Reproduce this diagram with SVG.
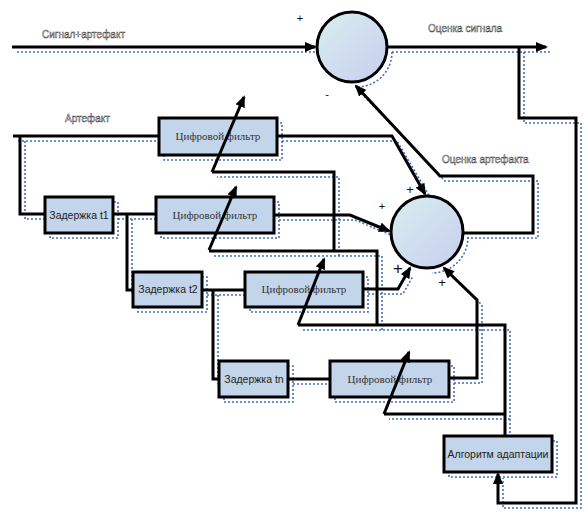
<svg xmlns="http://www.w3.org/2000/svg" width="586" height="522" viewBox="0 0 586 522">
<defs>
<style>
.conn{fill:none;stroke:#000;stroke-width:3;stroke-linejoin:miter}
.arr{marker-end:url(#ah)}
.shadow{fill:none;stroke:#3f6fbf;stroke-width:1.6;stroke-dasharray:2 2}
.box{fill:#c3d5ea;stroke:#000;stroke-width:3}
.sum{fill:url(#cg);stroke:#000;stroke-width:3}
.lbl{font-family:"Liberation Sans",Arial,sans-serif;font-size:10px;fill:#fff;stroke:#333;stroke-width:0.45}
.ser{font-family:"Liberation Serif","Times New Roman",serif;font-size:11px;fill:#333;text-anchor:middle}
.san{font-family:"Liberation Sans",Arial,sans-serif;font-size:10.5px;fill:#222;text-anchor:middle}
.sign{font-family:"Liberation Sans",Arial,sans-serif;fill:#111;text-anchor:middle}
</style>
<linearGradient id="cg" x1="0" y1="0" x2="1" y2="1">
<stop offset="0" stop-color="#d8eef0"/>
<stop offset="1" stop-color="#c8ceee"/>
</linearGradient>
<marker id="ah" markerUnits="userSpaceOnUse" markerWidth="12" markerHeight="10" viewBox="0 0 12 10" refX="10" refY="5" orient="auto">
<path d="M0,0 L12,5 L0,10 z" fill="#000"/>
</marker>
</defs>
<rect width="586" height="522" fill="#fff"/>

<g id="shadows" class="shadow" transform="translate(5,5)">
<path d="M12,47 H316"/>
<path d="M387,47 H547"/>
<path d="M519,47 V118 H576 V503 H498 V473"/>
<path d="M13,136 H159"/>
<path d="M20,136 V214 H45"/>
<path d="M277,136 H392 L425,192"/>
<path d="M462,233 H533 V176 H440 L356,88"/>
<path d="M113,214 H156"/>
<path d="M127,214 V290 H133"/>
<path d="M274,215 H350 L386,230"/>
<path d="M202,290 H245"/>
<path d="M213,290 V379 H219"/>
<path d="M363,289 H398 L408,271"/>
<path d="M288,379 H330"/>
<path d="M449,378 H477 V300 L446,271"/>
<path d="M505,436 V325 H298"/>
<path d="M377,325 V251 H209"/>
<path d="M334,251 V172 H212"/>
<path d="M505,414 H384"/>
<rect x="159" y="118" width="118" height="37"/>
<rect x="156" y="197" width="118" height="36"/>
<rect x="245" y="272" width="118" height="35"/>
<rect x="330" y="361" width="119" height="36"/>
<rect x="45" y="197" width="68" height="36"/>
<rect x="133" y="272" width="69" height="35"/>
<rect x="219" y="361" width="69" height="36"/>
<rect x="444" y="436" width="108" height="36"/>
<path d="M387,47 A35,35 0 0 1 352,82"/>
<path d="M463,232 A36,36 0 0 1 427,268"/>
</g>

<g id="connectors">
<path class="conn arr" d="M12,47 H315"/>
<path class="conn arr" d="M387,47 H546"/>
<path class="conn arr" d="M519,47 V118 H576 V503 H498 V474"/>
<path class="conn" d="M13,136 H159"/>
<path class="conn" d="M20,136 V214 H45"/>
<path class="conn arr" d="M277,136 H392 L425,194"/>
<path class="conn arr" d="M462,233 H533 V176 H440 L356,86"/>
<path class="conn" d="M113,214 H156"/>
<path class="conn" d="M127,214 V290 H133"/>
<path class="conn arr" d="M274,215 H350 L389,231"/>
<path class="conn" d="M202,290 H245"/>
<path class="conn" d="M213,290 V379 H219"/>
<path class="conn arr" d="M363,289 H398 L410,268"/>
<path class="conn" d="M288,379 H330"/>
<path class="conn arr" d="M449,378 H477 V300 L444,268"/>
<path class="conn" d="M505,436 V325 H298"/>
<path class="conn" d="M377,325 V251 H209"/>
<path class="conn" d="M334,251 V172 H212"/>
<path class="conn" d="M505,414 H384"/>
</g>

<g id="sum-signal"><circle class="sum" cx="352" cy="47" r="35"/></g>
<g id="sum-artifact"><circle class="sum" cx="427" cy="232" r="36"/></g>

<g id="filter0"><rect class="box" x="159" y="118" width="118" height="37"/><text class="ser" x="218" y="140">Цифровой фильтр</text></g>
<g id="filter1"><rect class="box" x="156" y="197" width="118" height="36"/><text class="ser" x="215" y="219">Цифровой фильтр</text></g>
<g id="filter2"><rect class="box" x="245" y="272" width="118" height="35"/><text class="ser" x="304" y="293">Цифровой фильтр</text></g>
<g id="filtern"><rect class="box" x="330" y="361" width="119" height="36"/><text class="ser" x="390" y="383">Цифровой фильтр</text></g>
<g id="delay1"><rect class="box" x="45" y="197" width="68" height="36"/><text class="san" x="79" y="219">Задержка t1</text></g>
<g id="delay2"><rect class="box" x="133" y="272" width="69" height="35"/><text class="san" x="168" y="293">Задержка t2</text></g>
<g id="delayn"><rect class="box" x="219" y="361" width="69" height="36"/><text class="san" x="254" y="383">Задержка tn</text></g>
<g id="adapt"><rect class="box" x="444" y="436" width="108" height="36"/><text class="san" x="498" y="458">Алгоритм адаптации</text></g>

<g id="adjust-arrows">
<path class="conn arr" d="M212,172 L244,97"/>
<path class="conn arr" d="M209,250 L236,187"/>
<path class="conn arr" d="M298,325 L324,259"/>
<path class="conn arr" d="M384,414 L409,352"/>
</g>

<g id="labels">
<text class="lbl" x="42" y="38">Сигнал+артефакт</text>
<text class="lbl" x="428" y="32">Оценка сигнала</text>
<text class="lbl" x="65" y="122">Артефакт</text>
<text class="lbl" x="442" y="163">Оценка артефакта</text>
<text class="sign" x="300" y="22" font-size="11">+</text>
<text class="sign" x="327" y="98" font-size="11">-</text>
<text class="sign" x="410" y="194" font-size="13">+</text>
<text class="sign" x="382" y="210" font-size="11">+</text>
<text class="sign" x="398" y="274" font-size="17">+</text>
<text class="sign" x="442" y="287" font-size="13">+</text>
</g>
</svg>
